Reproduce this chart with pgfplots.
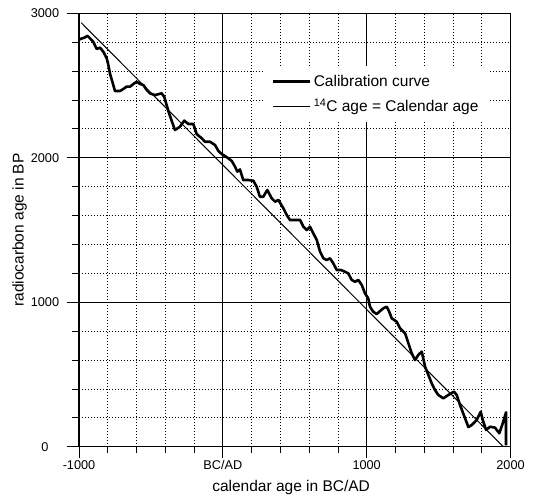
\documentclass[border=0pt]{standalone}
\usepackage{fontspec}
\setmainfont{Liberation Sans}
\usepackage{pgfplots}
\pgfplotsset{compat=1.18}
\begin{document}
\begin{tikzpicture}
\path[use as bounding box] (-79bp,-55.3bp) rectangle (457bp,446.7bp);
\begin{axis}[
  at={(0,0)}, anchor=south west,
  scale only axis, width=431.5bp, height=433.4bp,
  xmin=-1000, xmax=2000, ymin=0, ymax=3000,
  xtick={-1000,0,1000,2000}, xticklabels={-1000,BC/AD,1000,2000},
  ytick={0,1000,2000,3000},
  minor x tick num=4, minor y tick num=4,
  tick align=outside, tick pos=left,
  major tick length=11.5bp, minor tick length=6.5bp,
  tick style={black, line width=0.8bp},
  grid=both,
  major grid style={black, line width=0.9bp},
  minor grid style={black, line width=0.8bp, dash pattern=on 0.8bp off 2.2bp},
  axis line style={line width=1bp},
  /pgf/number format/assume math mode=true,
  /pgf/number format/1000 sep={},
  tick label style={font=\fontsize{12.7bp}{14bp}\selectfont},
  yticklabel style={anchor=center, xshift=-22.5bp},
  xticklabel style={yshift=1bp},
  label style={font=\fontsize{15.5bp}{18bp}\selectfont},
  xlabel={calendar age in BC/AD},
  ylabel={radiocarbon age in BP},
  xlabel style={at={(axis description cs:0.4916,-0.0946)}, anchor=center},
  ylabel style={at={(axis description cs:-0.1374,0.5)}, anchor=center},
  legend style={at={(0.4264,0.878)}, anchor=north west, draw=none, fill=white,
    font=\fontsize{15.5bp}{18bp}\selectfont, inner xsep=9bp, inner ysep=7bp,
    row sep=7bp},
  legend cell align=left,
  legend image code/.code={\draw[#1] (0bp,0bp) -- (30bp,0bp); \path (0bp,0bp) -- (37bp,0bp);},
]
\addplot[black, line width=2.6bp, line join=round] coordinates {
(-1000,2815) (-993,2822) (-963,2831) (-941,2844) (-924,2827) (-901,2803) (-877,2753) (-854,2762) (-831,2734) (-807,2688) (-796,2642) (-784,2580) (-768,2526) (-750,2462) (-715,2462) (-692,2476) (-668,2493) (-645,2492) (-622,2511) (-599,2526) (-576,2511) (-553,2504) (-529,2469) (-506,2445) (-472,2434) (-425,2446) (-407,2421) (-379,2324) (-355,2254) (-333,2192) (-298,2215) (-268,2257) (-240,2234) (-205,2234) (-182,2164) (-147,2135) (-124,2111) (-89,2111) (-54,2088) (-31,2047) (-8,2026) (15,2012) (38,1996) (62,1978) (85,1938) (101,1904) (119,1919) (142,1846) (177,1846) (212,1841) (235,1800) (258,1730) (281,1730) (309,1777) (340,1719) (363,1696) (386,1708) (421,1650) (444,1604) (467,1569) (502,1569) (537,1569) (560,1523) (583,1500) (606,1523) (629,1477) (653,1431) (676,1350) (699,1304) (722,1292) (745,1304) (768,1269) (792,1223) (822,1223) (849,1211) (872,1200) (896,1154) (919,1142) (942,1154) (966,1119) (988,1062) (1011,1027) (1023,969) (1046,934) (1070,918) (1093,939) (1116,958) (1139,969) (1157,934) (1174,889) (1209,865) (1232,820) (1267,785) (1290,716) (1313,647) (1336,600) (1359,635) (1383,658) (1406,554) (1429,496) (1452,439) (1475,392) (1498,358) (1533,335) (1579,365) (1607,381) (1626,358) (1649,289) (1684,197) (1707,136) (1730,150) (1765,185) (1793,242) (1807,185) (1830,116) (1858,138) (1892,132) (1922,93) (1946,162) (1969,238) (1969,10)
};
\addlegendentry{Calibration curve}
\addplot[black, line width=1bp] coordinates {(-985,2935) (1950,0)};
\addlegendentry{\textsuperscript{14}C age = Calendar age}
\end{axis}
\end{tikzpicture}
\end{document}
